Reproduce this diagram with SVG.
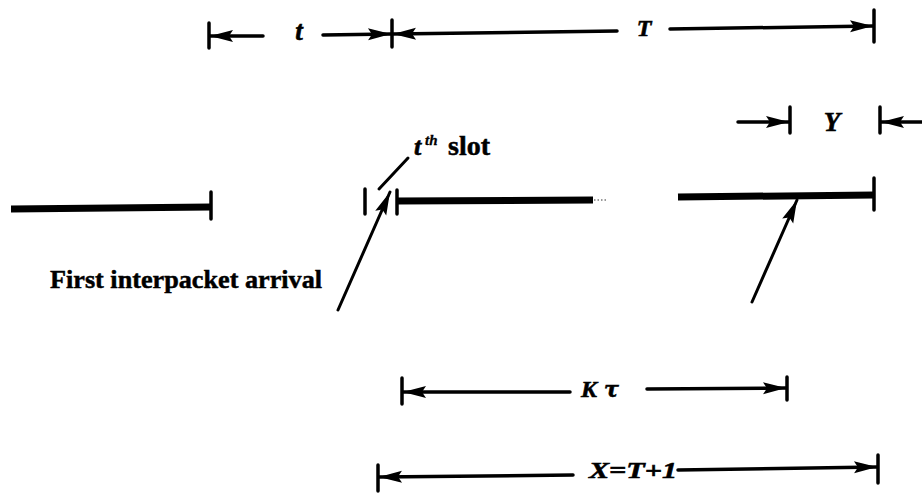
<svg xmlns="http://www.w3.org/2000/svg" width="922" height="494" viewBox="0 0 922 494">
  <style>
    .dim { stroke: #000; stroke-width: 3.5; fill: none; stroke-linecap: round; marker-end: url(#head); }
    .tick { stroke: #000; stroke-width: 3.5; stroke-linecap: round; }
    .bar { stroke: #000; stroke-width: 7; stroke-linecap: butt; }
    .ptr { stroke: #000; stroke-width: 3; stroke-linecap: round; fill: none; }
    .lbl { font-family: "Liberation Serif", "Times New Roman", serif; font-weight: bold; font-style: italic; font-size: 24px; fill: #000; stroke: #000; stroke-width: 0.6; }
    .txt { font-family: "Liberation Serif", "Times New Roman", serif; font-weight: bold; font-size: 26px; fill: #000; stroke: #000; stroke-width: 0.5; }
  </style>
  <defs>
    <marker id="head" markerUnits="userSpaceOnUse" markerWidth="26" markerHeight="12" refX="24" refY="6" orient="auto" overflow="visible">
      <path d="M24,6 L1,0 L5,6 L1,12 Z" fill="#000"/>
    </marker>
  </defs>

  <!-- ticks -->
  <g id="ticks">
    <line class="tick" x1="209" y1="23" x2="209" y2="48"/>
    <line class="tick" x1="392" y1="20" x2="392" y2="47"/>
    <line class="tick" x1="874" y1="10" x2="874" y2="42"/>
    <line class="tick" x1="790" y1="107" x2="790" y2="133"/>
    <line class="tick" x1="880" y1="107" x2="880" y2="133"/>
    <line class="tick" x1="211" y1="192" x2="211" y2="219"/>
    <line class="tick" x1="365" y1="189" x2="365" y2="214"/>
    <line class="tick" x1="397" y1="190" x2="397" y2="214"/>
    <line class="tick" x1="874" y1="178" x2="874" y2="210"/>
    <line class="tick" x1="402" y1="378" x2="402" y2="404"/>
    <line class="tick" x1="787" y1="377" x2="787" y2="400"/>
    <line class="tick" x1="378" y1="465" x2="378" y2="491"/>
    <line class="tick" x1="878" y1="455" x2="878" y2="483"/>
  </g>

  <!-- time bars -->
  <g id="bars">
    <line class="bar" x1="11" y1="209" x2="211" y2="207"/>
    <line class="bar" x1="397" y1="201" x2="593" y2="200"/>
    <line x1="594" y1="200" x2="606" y2="200" stroke="#999" stroke-width="2" stroke-dasharray="1.5 2"/>
    <line class="bar" x1="678" y1="197" x2="874" y2="195"/>
  </g>

  <!-- dimension arrows and pointers -->
  <g id="connectors">
    <line class="dim" x1="263" y1="36" x2="210" y2="36"/>
    <line class="dim" x1="323" y1="35" x2="391" y2="34"/>
    <line class="dim" x1="617" y1="31" x2="393" y2="34"/>
    <line class="dim" x1="670" y1="29" x2="873" y2="26"/>
    <line class="dim" x1="738" y1="122" x2="789" y2="122"/>
    <line class="dim" x1="922" y1="122" x2="881" y2="122"/>
    <line class="dim" x1="570" y1="392" x2="403" y2="392"/>
    <line class="dim" x1="647" y1="389" x2="786" y2="388"/>
    <line class="dim" x1="573" y1="475" x2="379" y2="477"/>
    <line class="dim" x1="678" y1="470" x2="877" y2="467"/>
    <line class="ptr" x1="408" y1="158" x2="379" y2="189"/>
    <line class="ptr" x1="338" y1="310" x2="390" y2="192" marker-end="url(#head)"/>
    <line class="ptr" x1="752" y1="302" x2="797" y2="200" marker-end="url(#head)"/>
  </g>

  <!-- labels -->
  <g id="labels">
    <text class="lbl" x="299" y="40" text-anchor="middle" style="font-size:27px">t</text>
    <text class="lbl" x="644" y="36" text-anchor="middle">T</text>
    <text class="lbl" x="832" y="131" text-anchor="middle" style="font-size:27px">Y</text>
    <text class="lbl" x="414" y="155" style="font-size:26px">t</text>
    <text class="lbl" x="425" y="145" style="font-size:15px;stroke-width:0.3">th</text>
    <text class="txt" x="448" y="155" style="font-size:28px">slot</text>
    <text class="txt" x="50" y="288" textLength="272" lengthAdjust="spacingAndGlyphs">First interpacket arrival</text>
    <text class="lbl" x="581" y="397">K</text>
    <text class="lbl" x="604" y="397" style="font-family:'DejaVu Serif',serif;font-size:22px">τ</text>
    <text class="lbl" x="589" y="478" style="font-size:24px" textLength="88" lengthAdjust="spacingAndGlyphs">X=T+1</text>
  </g>
</svg>
